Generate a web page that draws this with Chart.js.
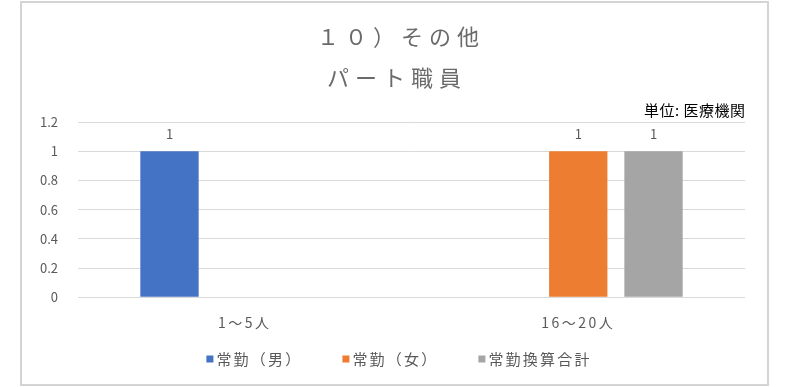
<!DOCTYPE html>
<html lang="ja">
<head>
<meta charset="utf-8">
<title>１０）その他 パート職員</title>
<script src="https://cdn.jsdelivr.net/npm/chart.js@4"></script>
<style>
  html, body { margin: 0; padding: 0; background: #fff; }
  #wrap { width: 785px; height: 387px; }
</style>
</head>
<body>
<div id="wrap"><canvas id="myChart" width="785" height="387"></canvas></div>
<script>
// categories and values
const categories = ["1～5人", "16～20人"];
const seriesNames = ["常勤（男）", "常勤（女）", "常勤換算合計"];
const seriesColors = ["#4472C4", "#ED7D31", "#A5A5A5"];
const maleValues = [1, null];
const femaleValues = [null, 1];
const totalValues = [null, 1];
const yTickLabels = ["0", "0.2", "0.4", "0.6", "0.8", "1", "1.2"];
const titleLines = ["１０）その他", "パート職員"];
const unitNote = "単位: 医療機関";

const FONT = "'Noto Sans CJK JP', 'Noto Sans', sans-serif";
const TEXT_COLOR = "#595959";

// category axis whose labels are spaced out a little
class SpacedCategoryScale extends Chart.CategoryScale {
  drawLabels(chartArea) {
    this.ctx.save();
    this.ctx.letterSpacing = "2.5px";
    super.drawLabels(chartArea);
    this.ctx.restore();
  }
}
SpacedCategoryScale.id = "spacedCategory";
SpacedCategoryScale.defaults = Chart.CategoryScale.defaults;
Chart.register(SpacedCategoryScale);

// frame, titles, value labels, unit note and legend
const decorPlugin = {
  id: "decor",
  beforeDraw(chart) {
    const ctx = chart.ctx;
    ctx.save();
    ctx.fillStyle = "#fff";
    ctx.fillRect(0, 0, chart.width, chart.height);
    ctx.strokeStyle = "#d4d4d4";
    ctx.lineWidth = 2;
    ctx.strokeRect(21, 2, 747, 383);
    ctx.restore();
  },
  afterDatasetsDraw(chart) {
    const ctx = chart.ctx;
    ctx.save();
    ctx.textBaseline = "middle";
    ctx.textAlign = "center";

    // title, two lines
    ctx.fillStyle = "#6a6a6a";
    ctx.font = "22px " + FONT;
    ctx.letterSpacing = "6px";
    ctx.fillText(titleLines[0], 401, 37);
    ctx.fillText(titleLines[1], 397, 78);
    ctx.letterSpacing = "0px";

    // value above each bar
    ctx.font = "13px " + FONT;
    ctx.fillStyle = TEXT_COLOR;
    chart.data.datasets.forEach((ds, i) => {
      const meta = chart.getDatasetMeta(i);
      meta.data.forEach((bar, j) => {
        const v = ds.data[j];
        if (v === null || v === undefined) return;
        ctx.fillText(String(v), bar.x, bar.y - 17);
      });
    });

    // unit note on a white patch
    ctx.font = "15px " + FONT;
    ctx.letterSpacing = "0.5px";
    const w = ctx.measureText(unitNote).width;
    ctx.fillStyle = "#fff";
    ctx.fillRect(638, 99, w + 14, 22);
    ctx.fillStyle = "#000";
    ctx.textAlign = "left";
    ctx.fillText(unitNote, 644, 110);

    // legend along the bottom
    ctx.font = "15px " + FONT;
    ctx.letterSpacing = "2.2px";
    const box = 7, boxGap = 3, itemGap = 40, legendY = 359;
    const widths = chart.data.datasets.map((ds) => box + boxGap + ctx.measureText(ds.label).width);
    const total = widths.reduce((a, b) => a + b, 0) + itemGap * (widths.length - 1);
    let x = 399 - total / 2;
    chart.data.datasets.forEach((ds, i) => {
      ctx.fillStyle = ds.backgroundColor;
      ctx.fillRect(x, legendY - box / 2, box, box);
      ctx.fillStyle = TEXT_COLOR;
      ctx.fillText(ds.label, x + box + boxGap, legendY);
      x += widths[i] + itemGap;
    });
    ctx.restore();
  },
};

new Chart("myChart", {
  type: "bar",
  data: {
    labels: categories,
    datasets: [
      { label: seriesNames[0], data: maleValues, backgroundColor: seriesColors[0] },
      { label: seriesNames[1], data: femaleValues, backgroundColor: seriesColors[1] },
      { label: seriesNames[2], data: totalValues, backgroundColor: seriesColors[2] },
    ],
  },
  options: {
    responsive: false,
    animation: false,
    layout: { padding: { left: 20, right: 40, top: 122, bottom: 39 } },
    datasets: {
      bar: { categoryPercentage: 0.677, barPercentage: 0.775 },
    },
    scales: {
      x: {
        type: "spacedCategory",
        grid: { display: false, drawTicks: false },
        border: { display: false },
        ticks: {
          padding: 17,
          color: TEXT_COLOR,
          font: { family: FONT, size: 14 },
        },
      },
      y: {
        min: 0,
        max: 1.2,
        afterFit(scale) {
          scale.width = 58;
        },
        grid: { color: "#d9d9d9", lineWidth: 1, drawTicks: false },
        border: { display: false },
        ticks: {
          stepSize: 0.2,
          padding: 20,
          color: TEXT_COLOR,
          font: { family: FONT, size: 13 },
          callback: (v, i) => yTickLabels[i],
        },
      },
    },
    plugins: {
      title: { display: false },
      legend: { display: false },
      tooltip: { enabled: false },
    },
  },
  plugins: [decorPlugin],
});
</script>
</body>
</html>
